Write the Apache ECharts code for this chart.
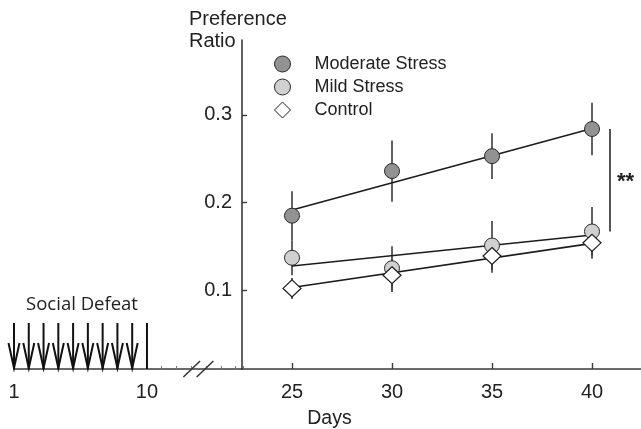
<!DOCTYPE html>
<html><head><meta charset="utf-8">
<script src="https://cdn.jsdelivr.net/npm/echarts@6/dist/echarts.min.js"></script>
<style>html,body{margin:0;padding:0;background:#fff}#c{width:641px;height:429px}</style>
</head><body><div id="c"></div>
<script>
// ---- data ----
const days = [25, 30, 35, 40];
const moderateMean = [0.185, 0.236, 0.253, 0.284];
const moderateErr  = [0.028, 0.035, 0.026, 0.030];
const mildMean     = [0.137, 0.125, 0.151, 0.167];
const mildErr      = [0.020, 0.025, 0.028, 0.028];
const controlMean  = [0.102, 0.117, 0.139, 0.154];
const controlErr   = [0.012, 0.019, 0.019, 0.018];
const fitDays      = [25, 40];
const moderateFit  = [0.1915, 0.2845];
const mildFit      = [0.1276, 0.163];
const controlFit   = [0.103, 0.1534];
const defeatDays   = [1, 2, 3, 4, 5, 6, 7, 8, 9];
const defeatEnd    = [10];
const yTickValues  = [0.1, 0.2, 0.3];
const lateTicks    = [25, 30, 35, 40];
const earlyLabels  = [1, 10];
const seriesNames  = ['Moderate Stress', 'Mild Stress', 'Control'];

const FONT = "'Liberation Sans', Arial, sans-serif";
const Y_MIN = 0.01, Y_MAX = 0.3856;
const AXIS_COLOR = '#3a3a3a';

function pairs(xs, ys) { return xs.map((x, i) => [x, ys[i]]); }
function errData(xs, m, e) { return xs.map((x, i) => [x, m[i] - e[i], m[i] + e[i]]); }

function errSeries(data) {
  return {
    type: 'custom', xAxisIndex: 0, yAxisIndex: 0, z: 1, silent: true,
    data: data,
    renderItem: function (params, api) {
      const lo = api.coord([api.value(0), api.value(1)]);
      const hi = api.coord([api.value(0), api.value(2)]);
      return { type: 'line', shape: { x1: lo[0], y1: lo[1], x2: hi[0], y2: hi[1] },
               style: { stroke: '#3c3c3c', lineWidth: 1.6 } };
    }
  };
}
function fitSeries(ys) {
  return { type: 'line', xAxisIndex: 0, yAxisIndex: 0, z: 2, silent: true,
           data: pairs(fitDays, ys), symbol: 'none',
           lineStyle: { color: '#1c1c1c', width: 1.6 } };
}

const chart = echarts.init(document.getElementById('c'), null, { renderer: 'canvas' });
const option = {
  animation: false,
  backgroundColor: '#fff',
  grid: [
    { left: 242, width: 399, top: 40, bottom: 60 },
    { left: 14, width: 229, top: 40, bottom: 60 }
  ],
  xAxis: [
    { type: 'value', gridIndex: 0, min: 22.5, max: 42.45,
      axisLine: { show: true, onZero: false, lineStyle: { color: AXIS_COLOR, width: 1.6 } },
      axisTick: { show: true, inside: true, length: 6, customValues: lateTicks, lineStyle: { color: AXIS_COLOR, width: 1.4 } },
      axisLabel: { customValues: lateTicks, margin: 13, color: '#222', fontSize: 20, fontFamily: FONT },
      splitLine: { show: false } },
    { type: 'value', gridIndex: 1, min: 1, max: 16.5, interval: 1,
      axisLine: { show: true, onZero: false, lineStyle: { color: AXIS_COLOR, width: 1.6 } },
      axisTick: { show: true, inside: true, length: 3, lineStyle: { color: '#777', width: 1 } },
      axisLabel: { customValues: earlyLabels, margin: 13, color: '#222', fontSize: 20, fontFamily: FONT },
      splitLine: { show: false } }
  ],
  yAxis: [
    { type: 'value', gridIndex: 0, min: Y_MIN, max: Y_MAX,
      axisLine: { show: true, onZero: false, lineStyle: { color: AXIS_COLOR, width: 1.6 } },
      axisTick: { show: true, inside: true, length: 5, customValues: yTickValues, lineStyle: { color: AXIS_COLOR, width: 1.4 } },
      axisLabel: { customValues: yTickValues, margin: 10, color: '#222', fontSize: 20, fontFamily: FONT,
                   formatter: v => v.toFixed(1) },
      splitLine: { show: false } },
    { type: 'value', gridIndex: 1, min: Y_MIN, max: Y_MAX, show: false }
  ],
  legend: {
    orient: 'vertical', left: 274, top: 55, padding: 0,
    itemWidth: 16, itemHeight: 16, itemGap: 5,
    data: seriesNames,
    itemStyle: { borderWidth: 1 },
    textStyle: { fontSize: 18, color: '#222', fontFamily: FONT, padding: [0, 0, 0, 19] }
  },
  graphic: [
    { type: 'text', left: 189, top: 9, style: { text: 'Preference', font: '20px ' + FONT, fill: '#222' } },
    { type: 'text', left: 189, top: 31, style: { text: 'Ratio', font: '20px ' + FONT, fill: '#222' } },
    { type: 'text', style: { text: 'Days', x: 329.5, y: 419, align: 'center', verticalAlign: 'middle', font: '19.5px ' + FONT, fill: '#222' } },
    { type: 'text', style: { text: 'Social Defeat', x: 82, y: 305, align: 'center', verticalAlign: 'middle', font: "18.5px 'Open Sans', sans-serif", fill: '#222' } }
  ],
  series: [
    errSeries(errData(days, moderateMean, moderateErr)),
    errSeries(errData(days, mildMean, mildErr)),
    errSeries(errData(days, controlMean, controlErr)),
    fitSeries(moderateFit),
    fitSeries(mildFit),
    fitSeries(controlFit),
    { name: seriesNames[0], type: 'scatter', xAxisIndex: 0, yAxisIndex: 0, z: 3,
      data: pairs(days, moderateMean), symbol: 'circle', symbolSize: 15,
      itemStyle: { color: '#929292', borderColor: '#2b2b2b', borderWidth: 1, opacity: 1 } },
    { name: seriesNames[1], type: 'scatter', xAxisIndex: 0, yAxisIndex: 0, z: 3,
      data: pairs(days, mildMean), symbol: 'circle', symbolSize: 15,
      itemStyle: { color: '#d0d0d0', borderColor: '#2b2b2b', borderWidth: 1, opacity: 1 } },
    { name: seriesNames[2], type: 'scatter', xAxisIndex: 0, yAxisIndex: 0, z: 4,
      data: pairs(days, controlMean), symbol: 'diamond', symbolSize: [18, 17],
      itemStyle: { color: '#ffffff', borderColor: '#1c1c1c', borderWidth: 1.2, opacity: 1 } },
    // significance bracket between the day-40 means
    { type: 'custom', xAxisIndex: 0, yAxisIndex: 0, z: 2, silent: true,
      data: [[40.9, mildMean[3], moderateMean[3]]],
      renderItem: function (params, api) {
        const a = api.coord([api.value(0), api.value(1)]);
        const b = api.coord([api.value(0), api.value(2)]);
        return { type: 'group', children: [
          { type: 'line', shape: { x1: a[0], y1: a[1], x2: b[0], y2: b[1] }, style: { stroke: '#555', lineWidth: 2 } },
          { type: 'text', style: { text: '**', x: a[0] + 7, y: (a[1] + b[1]) / 2 + 2, align: 'left', verticalAlign: 'middle',
            font: 'bold 22px ' + FONT, fill: '#222' } }
        ] };
      } },
    // social defeat arrows
    { type: 'custom', xAxisIndex: 1, yAxisIndex: 1, z: 5, silent: true,
      data: defeatDays.map(d => [d, 1]).concat(defeatEnd.map(d => [d, 0])),
      renderItem: function (params, api) {
        const tip = api.coord([api.value(0), Y_MIN]);
        const top = api.coord([api.value(0), 0.0625]);
        const st = { stroke: '#111', lineWidth: 2 };
        const children = [{ type: 'line', shape: { x1: tip[0], y1: top[1], x2: tip[0], y2: tip[1] }, style: st }];
        if (api.value(1) === 1) {
          children.push({ type: 'polyline', shape: { points: [[tip[0] - 5.5, tip[1] - 26], [tip[0], tip[1] - 1], [tip[0] + 5.5, tip[1] - 26]] }, style: Object.assign({ fill: null }, st) });
        }
        return { type: 'group', children: children };
      } },
    // axis break marks
    { type: 'custom', xAxisIndex: 1, yAxisIndex: 1, z: 5, silent: true,
      data: [[13.48, Y_MIN]],
      renderItem: function (params, api) {
        const c = api.coord([api.value(0), api.value(1)]);
        const st = { stroke: '#333', lineWidth: 1.5 };
        return { type: 'group', children: [
          { type: 'line', shape: { x1: c[0] - 15, y1: c[1] + 8, x2: c[0] + 1.7, y2: c[1] - 8 }, style: st },
          { type: 'line', shape: { x1: c[0] - 1.7, y1: c[1] + 8, x2: c[0] + 15, y2: c[1] - 8 }, style: st }
        ] };
      } }
  ]
};
chart.setOption(option);
</script></body></html>
